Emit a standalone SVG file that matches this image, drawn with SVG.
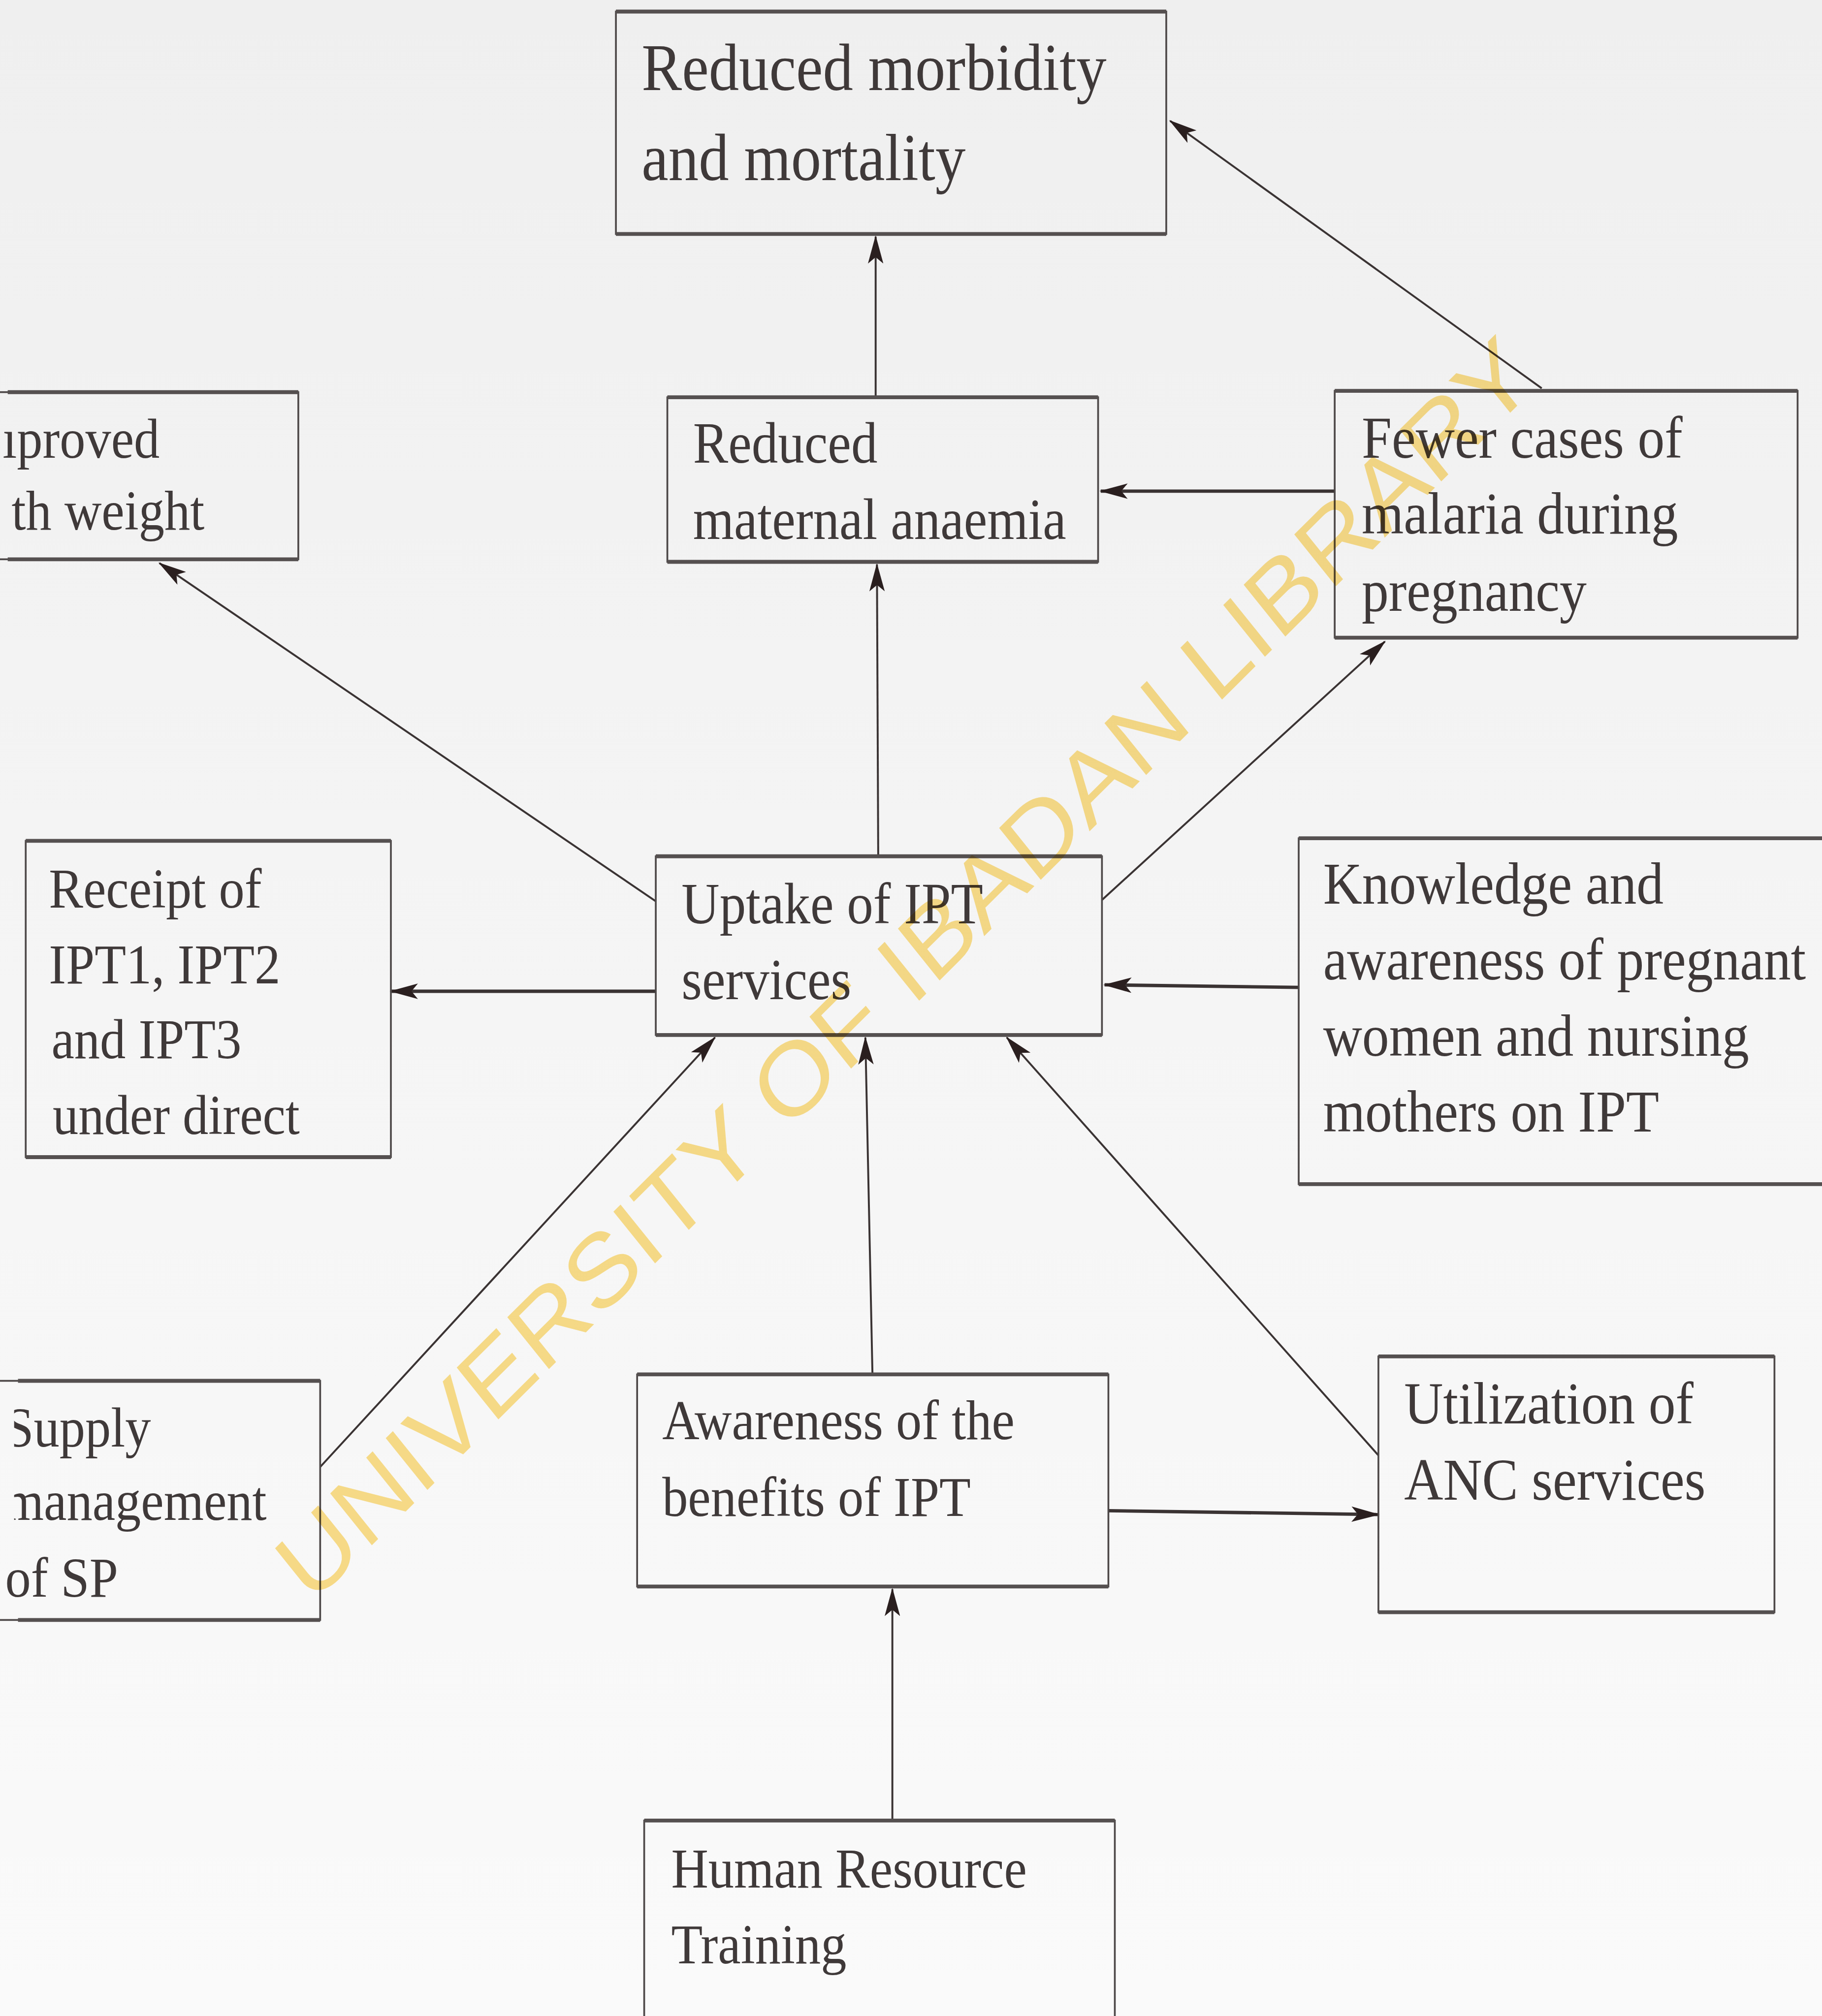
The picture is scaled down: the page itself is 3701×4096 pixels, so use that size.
<svg xmlns="http://www.w3.org/2000/svg" width="3701" height="4096" viewBox="0 0 3701 4096">
<defs>
<linearGradient id="bg" x1="0" y1="0" x2="0" y2="1">
<stop offset="0" stop-color="#efefef"/>
<stop offset="0.5" stop-color="#f5f5f5"/>
<stop offset="1" stop-color="#fafafa"/>
</linearGradient>
<marker id="ah" viewBox="0 0 22 12" refX="21" refY="6" markerWidth="22" markerHeight="12" markerUnits="userSpaceOnUse" orient="auto">
<path d="M0,0 L22,6 L0,12 L5,6 Z" fill="#2a1f1f"/>
</marker>
<clipPath id="clipSupply"><rect x="11" y="1060" width="260" height="150"/></clipPath>
<style>
.side{fill:none;stroke:#4d4848;stroke-width:1.4}
.tb{fill:none;stroke:#555050;stroke-width:3}
.t{font-family:"Liberation Serif","Times New Roman",serif;fill:#3f3939}
.s40{font-size:40px}.s41{font-size:41px}.s42{font-size:42px}.s47{font-size:47px}
.c{fill:none;stroke:#3a3333;stroke-width:1.5}
.cw{fill:none;stroke:#3a3333;stroke-width:2.6}
.wm{font-family:"Liberation Sans",Arial,sans-serif;font-size:100px;fill:#fde08a}
</style>
</defs>
<rect x="0" y="0" width="3701" height="4096" fill="url(#bg)"/>
<g transform="scale(2.6119 2.6122)">
<g id="connectors">
<path class="c" d="M681,308 L681,184" marker-end="url(#ah)"/>
<path class="c" d="M1199,302 L910,94" marker-end="url(#ah)"/>
<path class="cw" d="M1038,382 L856,382" marker-end="url(#ah)"/>
<path class="c" d="M683,666 L682,439" marker-end="url(#ah)"/>
<path class="c" d="M510,701 L124,438" marker-end="url(#ah)"/>
<path class="c" d="M857,700 L1077,499" marker-end="url(#ah)"/>
<path class="cw" d="M510,771 L304,771" marker-end="url(#ah)"/>
<path class="cw" d="M1010,768 L859,766" marker-end="url(#ah)"/>
<path class="c" d="M249,1141 L556,807" marker-end="url(#ah)"/>
<path class="c" d="M678.5,1068 L673,807" marker-end="url(#ah)"/>
<path class="c" d="M1072,1132 L783,807" marker-end="url(#ah)"/>
<path class="cw" d="M862,1175 L1072,1178" marker-end="url(#ah)"/>
<path class="c" d="M694,1416 L694,1236" marker-end="url(#ah)"/>
</g>
<g id="n_top">
<rect class="side" x="479" y="9" width="428" height="173"/>
<path class="tb" d="M479,9 H907 M479,182 H907"/>
<text class="t s47" transform="matrix(1 0 0 1.1 499 70)">Reduced morbidity</text>
<text class="t s47" transform="matrix(1 0 0 1.1 499 140)">and mortality</text>
</g>
<g id="n_birth">
<rect class="side" x="-20" y="305" width="252" height="130"/>
<path class="tb" d="M6,305 H232 M6,435 H232"/>
<text class="t s40" transform="matrix(1 0 0 1.1 2 356)">ıproved</text>
<text class="t s40" transform="matrix(1 0 0 1.1 9 412)">th weight</text>
</g>
<g id="n_anaemia">
<rect class="side" x="519" y="309" width="335" height="128"/>
<path class="tb" d="M519,309 H854 M519,437 H854"/>
<text class="t s41" transform="matrix(1 0 0 1.1 539 360)">Reduced</text>
<text class="t s41" transform="matrix(1 0 0 1.1 539 419)">maternal anaemia</text>
</g>
<g id="n_fewer">
<rect class="side" x="1038" y="304" width="360" height="192"/>
<path class="tb" d="M1038,304 H1398 M1038,496 H1398"/>
<text class="t s42" transform="matrix(1 0 0 1.1 1059 356)">Fewer cases of</text>
<text class="t s42" transform="matrix(1 0 0 1.1 1059 415)">malaria during</text>
<text class="t s42" transform="matrix(1 0 0 1.1 1059 475)">pregnancy</text>
</g>
<g id="n_uptake">
<rect class="side" x="510" y="666" width="347" height="139"/>
<path class="tb" d="M510,666 H857 M510,805 H857"/>
<text class="t s41" transform="matrix(1 0 0 1.1 530 718)">Uptake of IPT</text>
<text class="t s41" transform="matrix(1 0 0 1.1 530 777)">services</text>
</g>
<g id="n_receipt">
<rect class="side" x="20" y="654" width="284" height="246"/>
<path class="tb" d="M20,654 H304 M20,900 H304"/>
<text class="t s40" transform="matrix(1 0 0 1.1 38 706)">Receipt of</text>
<text class="t s40" transform="matrix(1 0 0 1.1 38 765)">IPT1, IPT2</text>
<text class="t s40" transform="matrix(1 0 0 1.1 40 823)">and IPT3</text>
<text class="t s40" transform="matrix(1 0 0 1.1 41 882)">under direct</text>
</g>
<g id="n_knowledge">
<rect class="side" x="1010" y="652" width="420" height="269"/>
<path class="tb" d="M1010,652 H1430 M1010,921 H1430"/>
<text class="t s42" transform="matrix(1 0 0 1.1 1029 703)">Knowledge and</text>
<text class="t s42" transform="matrix(1 0 0 1.1 1029 762)">awareness of pregnant</text>
<text class="t s42" transform="matrix(1 0 0 1.1 1029 821)">women and nursing</text>
<text class="t s42" transform="matrix(1 0 0 1.1 1029 880)">mothers on IPT</text>
</g>
<g id="n_supply">
<rect class="side" x="-20" y="1074" width="269" height="186"/>
<path class="tb" d="M14,1074 H249 M14,1260 H249"/>
<g clip-path="url(#clipSupply)">
<text class="t s40" transform="matrix(1 0 0 1.1 4 1125)">Supply</text>
<text class="t s40" transform="matrix(1 0 0 1.1 3 1182)">management</text>
</g>
<text class="t s40" transform="matrix(1 0 0 1.1 4 1242)">of SP</text>
</g>
<g id="n_awareness">
<rect class="side" x="495.5" y="1069" width="366.5" height="165"/>
<path class="tb" d="M495.5,1069 H862 M495.5,1234 H862"/>
<text class="t s40" transform="matrix(1 0 0 1.1 515 1119.5)">Awareness of the</text>
<text class="t s40" transform="matrix(1 0 0 1.1 515 1179)">benefits of IPT</text>
</g>
<g id="n_utilization">
<rect class="side" x="1072" y="1055" width="308" height="199"/>
<path class="tb" d="M1072,1055 H1380 M1072,1254 H1380"/>
<text class="t s42" transform="matrix(1 0 0 1.1 1092 1107)">Utilization of</text>
<text class="t s42" transform="matrix(1 0 0 1.1 1092 1166.5)">ANC services</text>
</g>
<g id="n_hr">
<rect class="side" x="501" y="1416" width="366" height="200"/>
<path class="tb" d="M501,1416 H867"/>
<text class="t s40" transform="matrix(1 0 0 1.1 522 1468)">Human Resource</text>
<text class="t s40" transform="matrix(1 0 0 1.1 522 1527)">Training</text>
</g>
<g id="watermark" style="mix-blend-mode:multiply">
<text class="wm" transform="matrix(0.590 -0.587 0.471 0.585 241.8 1249)">UNIVERSITY OF IBADAN LIBRARY</text>
</g>
</g>
</svg>
